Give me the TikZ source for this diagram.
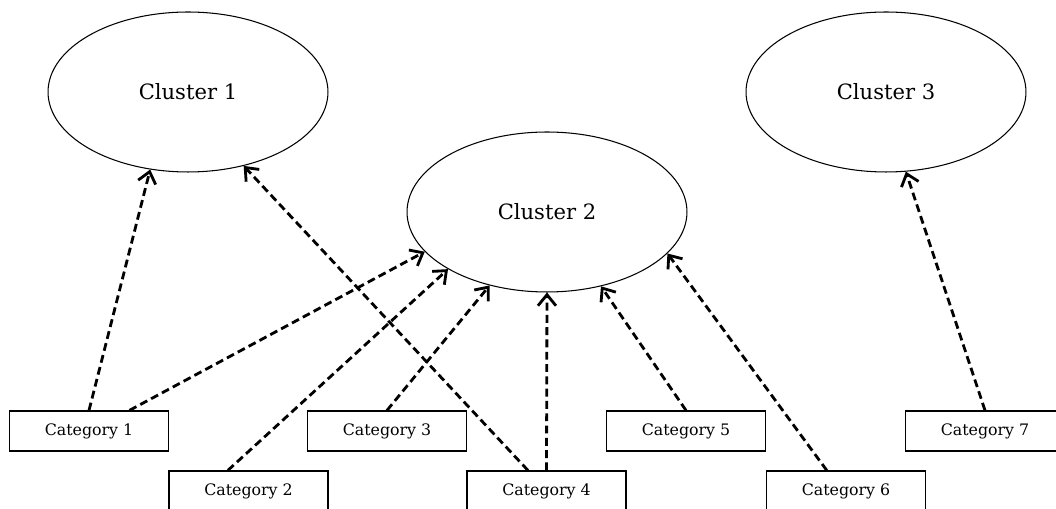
\documentclass[tikz,border=0pt]{standalone}
\usepackage{fontspec}
\setmainfont{DejaVu Serif}
\usetikzlibrary{shapes}
\usetikzlibrary{arrows.meta}
\tikzset{
    clusternode/.style = {ellipse, draw=black, line width=0.6pt, align=center, minimum width=5.6cm, minimum height=3.2cm, font=\fontsize{12}{14}\selectfont},
    catnode/.style = {rectangle, draw=black, line width=0.7pt, align=center, minimum width=3.18cm, minimum height=0.8cm, font=\fontsize{9}{11}\selectfont},
    edged/.style = {-{Straight Barb[length=2.2mm,width=3.6mm]}, line width=1.6pt, black, dash pattern=on 4.5pt off 2.5pt}, % category to cluster
}

\begin{document}
\begin{tikzpicture}[x=0.02cm, y=-0.02cm]
  \clip (0,0) rectangle (1056,509);
  % clusters
  \node[clusternode] (cl1) at (188,92) {Cluster 1};
  \node[clusternode] (cl2) at (547,212) {Cluster 2};
  \node[clusternode] (cl3) at (886,92) {Cluster 3};
  % categories
  \node[catnode] (cat1) at (89,431) {Category 1};
  \node[catnode] (cat2) at (248.5,491) {Category 2};
  \node[catnode] (cat3) at (387,431) {Category 3};
  \node[catnode] (cat4) at (546.5,491) {Category 4};
  \node[catnode] (cat5) at (686,431) {Category 5};
  \node[catnode] (cat6) at (846,491) {Category 6};
  \node[catnode] (cat7) at (985,431) {Category 7};
  % links
  \draw[edged] (cat1.north) -- (cl1.244);
  \draw[edged] (cat1.27) -- (cl2.198.6);
  \draw[edged] (cat2.135.7) -- (cl2.210.9);
  \draw[edged] (cat3.north) -- (cl2.232.6);
  \draw[edged] (cat4.132.8) -- (cl1.307.6);
  \draw[edged] (cat4.north) -- (cl2.south);
  \draw[edged] (cat5.north) -- (cl2.306.5);
  \draw[edged] (cat6.133.5) -- (cl2.341.3);
  \draw[edged] (cat7.north) -- (cl3.284.2);
\end{tikzpicture}
\end{document}
